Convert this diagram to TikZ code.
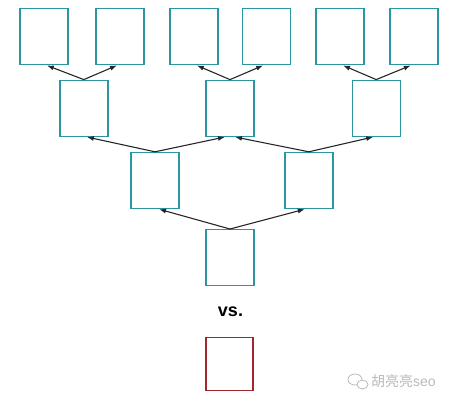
\documentclass[tikz,border=0pt]{standalone}
\usepackage{fontspec}
\setmainfont{Liberation Sans}
\newfontfamily\cjk{Noto Sans CJK SC}
\usetikzlibrary{arrows.meta}
\definecolor{boxteal}{RGB}{42,150,162}
\definecolor{boxred}{RGB}{160,40,45}
\definecolor{markgray}{RGB}{185,185,185}
\begin{document}
\begin{tikzpicture}[x=1pt,y=-1pt,
    blk/.style={draw=boxteal,line width=1.4pt,minimum width=48pt,minimum height=56pt,inner sep=0pt},
    redblk/.style={blk,draw=boxred,minimum width=47pt,minimum height=53pt}]
      \useasboundingbox (0,0) rectangle (464,402);
      \draw
        (230,257.7) node[blk] (0){}
        (155,180.5) node[blk] (1){}
        (308.8,180.5) node[blk] (2){}
        (83.8,108.3) node[blk] (3){}
        (230,108.3) node[blk] (4){}
        (376.2,108.3) node[blk] (5){}
        (43.8,36.7) node[blk] (6){}
        (120,36.7) node[blk] (7){}
        (193.8,36.7) node[blk] (8){}
        (266.2,36.7) node[blk] (9){}
        (340,36.7) node[blk] (10){}
        (413.8,36.7) node[blk] (11){};
      \begin{scope}[-{Latex[length=7pt,width=5pt]},line width=1.1pt,black!85]
        \draw (0.north) to ([xshift=4pt]1.south);
        \draw (0.north) to ([xshift=-4pt]2.south);
        \draw (1.north) to ([xshift=3pt]3.south);
        \draw (1.north) to ([xshift=-5pt]4.south);
        \draw (2.north) to ([xshift=5pt]4.south);
        \draw (2.north) to ([xshift=-3pt]5.south);
        \draw (3.north) to ([xshift=3pt]6.south);
        \draw (3.north) to ([xshift=-3pt]7.south);
        \draw (4.north) to ([xshift=3pt]8.south);
        \draw (4.north) to ([xshift=-3pt]9.south);
        \draw (5.north) to ([xshift=3pt]10.south);
        \draw (5.north) to ([xshift=-3pt]11.south);
      \end{scope}
      % vs. and the single box
      \node[font=\fontsize{18}{20}\selectfont\bfseries] (vs) at (230.5,312) {vs.};
      \node[redblk] (single) at (229.5,363.7) {};
      % watermark
      \draw[markgray,line width=0.8pt] (355,379.5) ellipse [x radius=7,y radius=5.5];
      \draw[markgray,line width=0.8pt,fill=white] (362.5,384.5) ellipse [x radius=5.5,y radius=4.5];
      \node[markgray,anchor=west,inner sep=0pt,font=\fontsize{14}{16}\selectfont] (mark) at (371,381) {{\cjk 胡亮亮}seo};
    \end{tikzpicture}
\end{document}
